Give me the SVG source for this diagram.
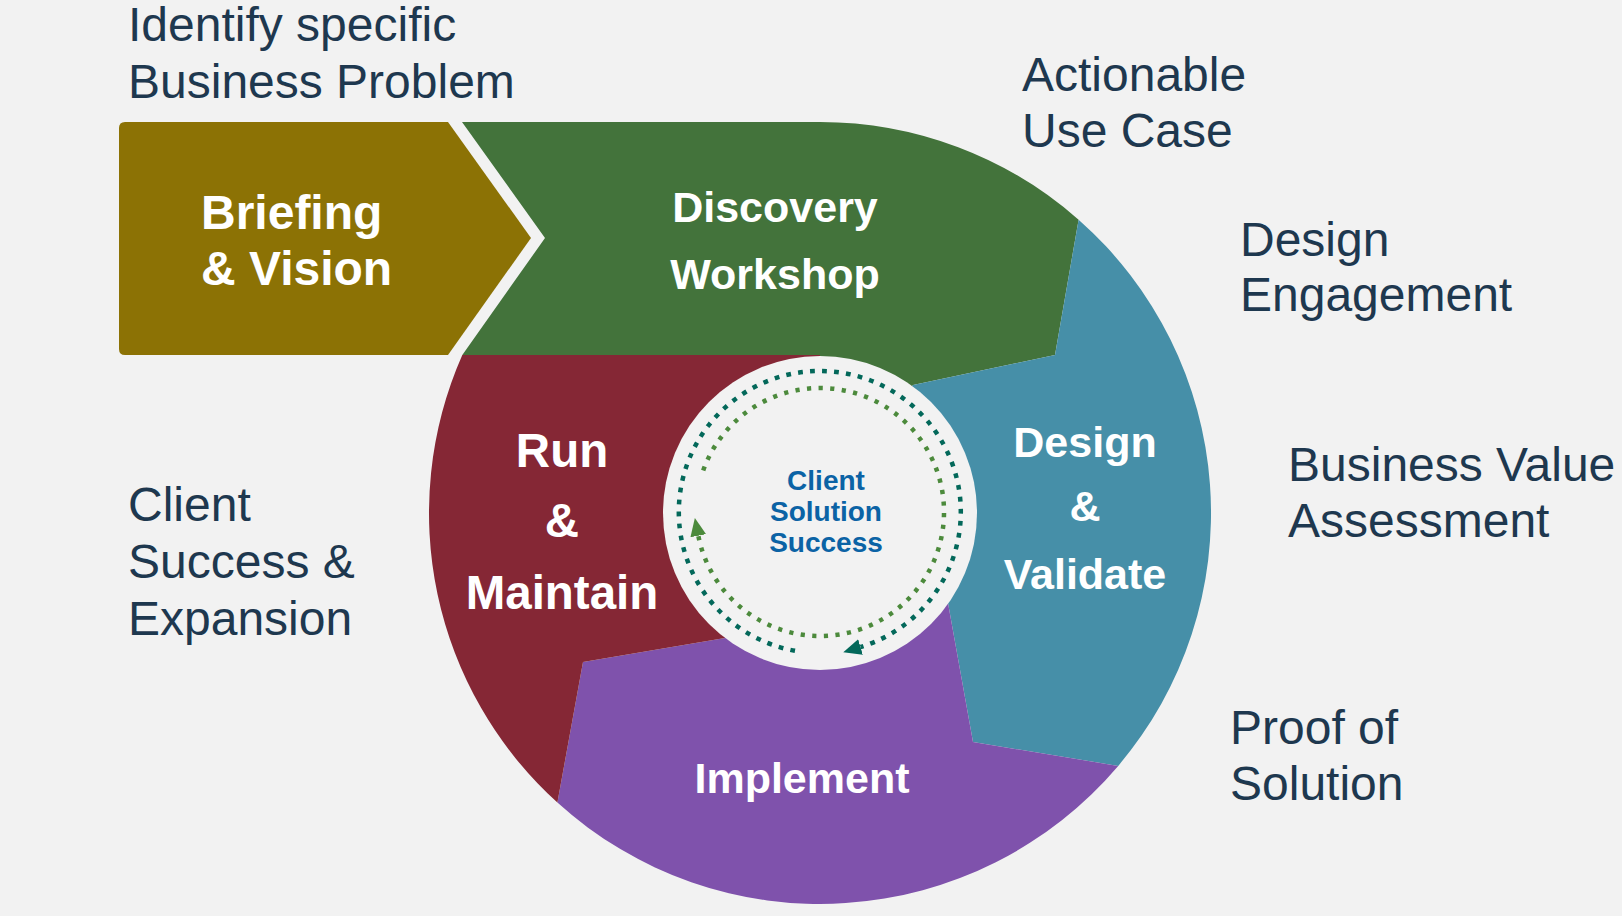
<svg xmlns="http://www.w3.org/2000/svg" width="1622" height="916" viewBox="0 0 1622 916">
  <style>
    .note { font-family: "Liberation Sans", Arial, sans-serif; font-size: 48px; fill: #1e384f; }
    .stage { font-family: "Liberation Sans", Arial, sans-serif; font-weight: bold; fill: #ffffff; text-anchor: middle; }
    .hub { font-family: "Liberation Sans", Arial, sans-serif; font-weight: bold; font-size: 28px; fill: #0b63a5; text-anchor: middle; }
    .ring { fill: none; stroke-width: 4.5; }
  </style>
  <defs>
    <marker id="headTeal" markerUnits="userSpaceOnUse" markerWidth="20" markerHeight="20" viewBox="0 -10 20 20" refX="0" refY="0" orient="auto">
      <path d="M0,-8 L18,0 L0,8 Z" fill="#03685a"/>
    </marker>
    <marker id="headGreen" markerUnits="userSpaceOnUse" markerWidth="20" markerHeight="20" viewBox="0 -10 20 20" refX="0" refY="0" orient="auto">
      <path d="M0,-8 L18,0 L0,8 Z" fill="#4c8a3c"/>
    </marker>
  </defs>

  <rect width="1622" height="916" fill="#f2f2f2"/>

  <!-- Annotations around the cycle -->
  <g id="annotations">
    <text class="note" x="128" y="41">Identify specific</text>
    <text class="note" x="128" y="98">Business Problem</text>
    <text class="note" x="1022" y="91">Actionable</text>
    <text class="note" x="1022" y="147">Use Case</text>
    <text class="note" x="1240" y="256">Design</text>
    <text class="note" x="1240" y="311">Engagement</text>
    <text class="note" x="1288" y="481">Business Value</text>
    <text class="note" x="1288" y="537">Assessment</text>
    <text class="note" x="1230" y="744">Proof of</text>
    <text class="note" x="1230" y="800">Solution</text>
    <text class="note" x="128" y="521">Client</text>
    <text class="note" x="128" y="578">Success &amp;</text>
    <text class="note" x="128" y="635">Expansion</text>
  </g>

  <!-- Entry chevron -->
  <g id="briefing">
    <path d="M125,122 L448,122 L531,238 L448,355 L125,355 Q119,355 119,349 L119,128 Q119,122 125,122 Z" fill="#8c7205"/>
    <text class="stage" style="text-anchor:start" x="201" y="229" font-size="48">Briefing</text>
    <text class="stage" style="text-anchor:start" x="201" y="285" font-size="48">&amp; Vision</text>
  </g>

  <!-- Ring segments, centre (820,513), outer radius 391 -->
  <g id="discovery">
    <path d="M462,122 L820,122 A391,391 0 0 1 1078.6,219.7 L1055,355 L913,385 L820,513 L820,355 L462.3,355 L545,238 Z" fill="#43733b"/>
    <text class="stage" x="775" y="222" font-size="43">Discovery</text>
    <text class="stage" x="775" y="289" font-size="43">Workshop</text>
  </g>

  <g id="design">
    <path d="M1078.6,219.7 A391,391 0 0 1 1118.2,765.9 L973,742 L948,603 L820,513 L913,385 L1055,355 Z" fill="#468fa8"/>
    <text class="stage" x="1085" y="457" font-size="43">Design</text>
    <text class="stage" x="1085" y="521" font-size="43">&amp;</text>
    <text class="stage" x="1085" y="589" font-size="43">Validate</text>
  </g>

  <g id="implement">
    <path d="M725,638 L820,513 L948,603 L973,742 L1118.2,765.9 A391,391 0 0 1 557.4,802.6 L583,662 Z" fill="#7f52ac"/>
    <text class="stage" x="802" y="793" font-size="43">Implement</text>
  </g>

  <g id="run">
    <path d="M462.3,355 L820,355 L820,513 L725,638 L583,662 L557.4,802.6 A391,391 0 0 1 462.3,355 Z" fill="#852735"/>
    <text class="stage" x="562" y="467" font-size="47.5">Run</text>
    <text class="stage" x="562" y="537" font-size="47.5">&amp;</text>
    <text class="stage" x="562" y="609" font-size="47.5">Maintain</text>
  </g>

  <!-- Hub -->
  <g id="center">
    <circle cx="820" cy="513" r="157" fill="#f2f2f2"/>
    <text class="hub" x="826" y="490">Client</text>
    <text class="hub" x="826" y="521">Solution</text>
    <text class="hub" x="826" y="552">Success</text>
  </g>

  <!-- Dotted cycle arrows around the hub -->
  <g id="connectors">
    <path class="ring" d="M795,650.8 A141,141 0 1 1 860.5,647" stroke="#03685a" stroke-width="4.8" stroke-dasharray="4.8 7.2" marker-end="url(#headTeal)"/>
    <path class="ring" d="M703.2,470.4 A124,124 0 1 1 698.3,535.7" stroke="#4c8a3c" stroke-width="4.2" stroke-dasharray="4.2 7.4" marker-end="url(#headGreen)"/>
  </g>
</svg>
